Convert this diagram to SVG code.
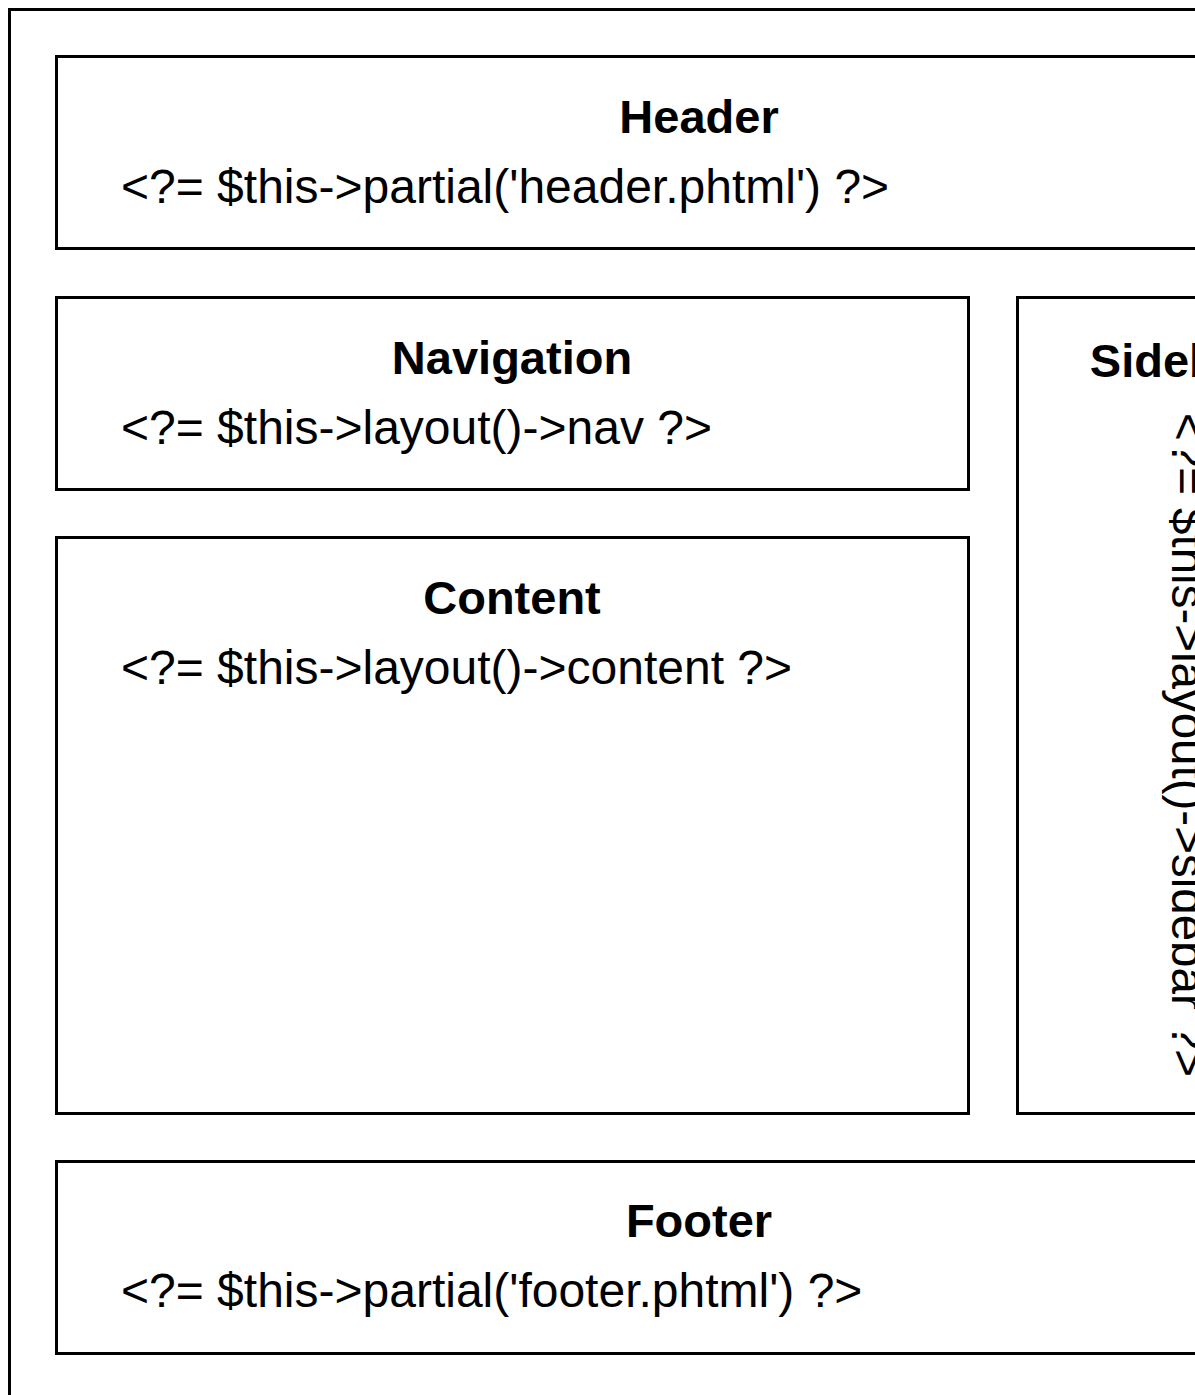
<svg xmlns="http://www.w3.org/2000/svg" width="1195" height="1395" viewBox="0 0 1195 1395">
<style>
.box{fill:#fff;stroke:#000;stroke-width:3}
.t{font-family:"Liberation Sans",Arial,sans-serif;font-size:47px;font-weight:bold;fill:#000;text-anchor:middle}
.c{font-family:"Liberation Sans",Arial,sans-serif;font-size:48px;fill:#000}
</style>
<rect x="0" y="0" width="1195" height="1395" fill="#fff"/>
<g id="page">
<rect class="box" x="9.5" y="9.5" width="1381" height="1391"/>
</g>
<g id="header">
<rect class="box" x="56.5" y="56.5" width="1286" height="192"/>
<text class="t" x="699" y="133">Header</text>
<text class="c" x="121" y="203">&lt;?= $this-&gt;partial('header.phtml') ?&gt;</text>
</g>
<g id="navigation">
<rect class="box" x="56.5" y="297.5" width="912" height="192"/>
<text class="t" x="512" y="374">Navigation</text>
<text class="c" x="121" y="444">&lt;?= $this-&gt;layout()-&gt;nav ?&gt;</text>
</g>
<g id="content">
<rect class="box" x="56.5" y="537.5" width="912" height="576"/>
<text class="t" x="512" y="614">Content</text>
<text class="c" x="121" y="684">&lt;?= $this-&gt;layout()-&gt;content ?&gt;</text>
</g>
<g id="sidebar">
<rect class="box" x="1017.5" y="297.5" width="325" height="816"/>
<text class="t" x="1176" y="377">Sidebar</text>
<text class="c" style="font-size:47.5px" transform="translate(1172,413) rotate(90)" x="0" y="0">&lt;?= $this-&gt;layout()-&gt;sidebar ?&gt;</text>
</g>
<g id="footer">
<rect class="box" x="56.5" y="1161.5" width="1286" height="192"/>
<text class="t" x="699" y="1237">Footer</text>
<text class="c" x="121" y="1307">&lt;?= $this-&gt;partial('footer.phtml') ?&gt;</text>
</g>
<g id="connectors"></g>
</svg>
